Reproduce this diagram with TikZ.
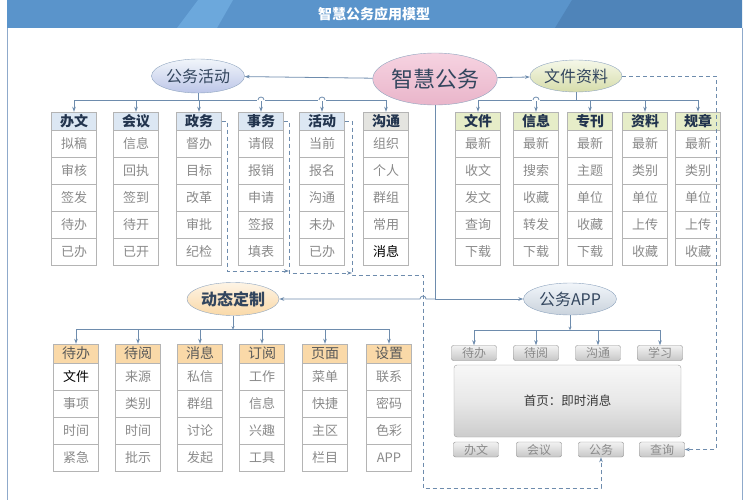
\documentclass[tikz,border=0pt]{standalone}
\usepackage{fontspec}
\setmainfont{Noto Sans CJK SC}
\usetikzlibrary{shapes.geometric,arrows.meta}

\definecolor{barmid}{HTML}{5A94CB}
\definecolor{barlight}{HTML}{6CA8DC}
\definecolor{bardark}{HTML}{4F84B9}
\definecolor{framecol}{HTML}{8FAACB}
\definecolor{wirecol}{HTML}{6E8CAD}
\definecolor{ellline}{HTML}{8EA4BE}
\definecolor{elltxt}{HTML}{33465E}
\definecolor{cellline}{HTML}{B4B4B4}
\definecolor{txtgray}{HTML}{8A8A8A}
\definecolor{hdrtxt}{HTML}{22344E}
\definecolor{hdrblue}{HTML}{DCE7F3}
\definecolor{hdrgray}{HTML}{E4E4E0}
\definecolor{hdrgreen}{HTML}{E6EDC8}
\definecolor{hdrorange}{HTML}{FAD9A8}
\definecolor{pinktop}{HTML}{F6D3E1}
\definecolor{pinkbot}{HTML}{E9B5CA}
\definecolor{btnline}{HTML}{8C8C8C}

\begin{document}
\begin{tikzpicture}[x=1pt, y=-1pt, >={Stealth[length=5pt,width=3.5pt]},
    wire/.style={draw=wirecol, line width=0.8pt},
    dashwire/.style={draw=wirecol, line width=0.8pt, dash pattern=on 4pt off 3pt},
    ell/.style={ellipse, draw=ellline, inner sep=0pt, text=elltxt, font=\fontsize{16}{16}\selectfont},
    hdr/.style={rectangle, draw=cellline, fill=#1, minimum width=45pt, minimum height=18pt, inner sep=0pt, text=hdrtxt, font=\bfseries\fontsize{14}{14}\selectfont},
    cell/.style={rectangle, draw=cellline, fill=white, minimum width=45pt, minimum height=27pt, inner sep=0pt, text=txtgray, font=\fontsize{13}{13}\selectfont},
    btn/.style={rectangle, rounded corners=2pt, draw=btnline, top color=white!95!black, bottom color=white!78!black, minimum width=45pt, minimum height=15pt, inner sep=0pt, text=txtgray, font=\fontsize{12}{12}\selectfont}]
    \useasboundingbox (0,0) rectangle (750,500);

    % Title bar
    \fill[barmid] (7,0) rectangle (742,28);
    \fill[barlight] (177,28) -- (198,0) -- (233,0) -- (217,28) -- cycle;
    \fill[bardark] (555,28) -- (572,0) -- (742,0) -- (742,28) -- cycle;
    \node[text=white, font=\bfseries\fontsize{14}{14}\selectfont] (title) at (374,14) {智慧公务应用模型};

    % Frame
    \draw[framecol, line width=1pt] (7,28) -- (7,500);
    \draw[framecol, line width=1pt] (742,28) -- (742,500);

    % Main nodes
    \node[ell, minimum width=100pt, minimum height=52pt, top color=pinktop, bottom color=pinkbot, font=\fontsize{22}{22}\selectfont] (zh) at (435,79) {智慧公务};
    \node[ell, minimum width=93pt, minimum height=34pt, top color=hdrblue!40, bottom color=hdrblue!90!blue!95!black] (gh) at (198,76) {公务活动};
    \node[ell, minimum width=92pt, minimum height=32pt, top color=hdrgreen!40, bottom color=hdrgreen!85!olive] (wz) at (576,76) {文件资料};
    \node[ell, minimum width=92pt, minimum height=33pt, top color=hdrorange!30, bottom color=hdrorange, font=\bfseries\fontsize{16}{16}\selectfont] (dt) at (233,299) {动态定制};
    \node[ell, minimum width=93pt, minimum height=32pt, top color=hdrblue!40, bottom color=hdrblue!80!gray] (ga) at (570,299) {公务APP};

    % Main connections
    \draw[wire,->] (zh) -- (gh);
    \draw[wire,->] (zh) -- (wz);
    \coordinate (hub) at (435,299);
    \draw[wire] (zh.south) -- (hub);
    \draw[wire,->] (hub) -- (426,299) arc[start angle=0, end angle=-180, radius=3] -- (dt.east);
    \draw[wire,->] (hub) -- (ga.west);

    % Gongwu huodong
    \draw[wire] (gh.south) -- ++(0,7);
    \foreach \c/\x/\hc/\h/\list in {
        1/74/hdrblue/办文/{拟稿,审核,签发,待办,已办},
        2/136/hdrblue/会议/{信息,回执,签到,待开,已开},
        3/199/hdrblue/政务/{督办,目标,改革,审批,纪检},
        4/261/hdrblue/事务/{请假,报销,申请,签报,填表},
        5/322/hdrblue/活动/{当前,报名,沟通,未办,已办},
        6/386/hdrgray/沟通/{组织,个人,群组,常用,\textcolor{black}{消息}}}
    {
        \node[hdr=\hc] (ha\c) at (\x,121) {\h};
        \foreach \t [count=\i] in \list
            \node[cell] (ha\c-\i) at (\x,116.5+27*\i) {\t};
        \draw[wire,->] (gh.south) ++(0,7) -| (ha\c.north);
    }

    % Wenjian ziliao
    \draw[wire] (wz.south) -- ++(0,8);
    \foreach \c/\x/\h/\list in {
        1/478/文件/{最新,收文,发文,查询,下载},
        2/536/信息/{最新,搜索,收藏,转发,下载},
        3/590/专刊/{最新,主题,单位,收藏,下载},
        4/645/资料/{最新,类别,单位,上传,收藏},
        5/698/规章/{最新,类别,单位,上传,收藏}}
    {
        \node[hdr=hdrgreen] (hb\c) at (\x,121) {\h};
        \foreach \t [count=\i] in \list
            \node[cell] (hb\c-\i) at (\x,116.5+27*\i) {\t};
        \draw[wire,->] (wz.south) ++(0,8) -| (hb\c.north);
    }

    % line jumps on the buses
    \foreach \bx in {261,322,536} {
        \fill[white] (\bx-3.6,98.8) rectangle (\bx+3.6,101.2);
        \draw[wire] (\bx-3,100) arc[start angle=180, end angle=360, radius=3];
    }

    % Dongtai dingzhi
    \draw[wire,-{Stealth[length=3.5pt,width=3pt]}] (dt.south) -- ++(0,14);
    \foreach \c/\x/\h/\list in {
        1/76/待办/{\textcolor{black}{文件},事项,时间,紧急},
        2/138/待阅/{来源,类别,时间,批示},
        3/200/消息/{私信,群组,讨论,发起},
        4/262/订阅/{工作,信息,兴趣,工具},
        5/325/页面/{菜单,快捷,主区,栏目},
        6/389/设置/{联系,密码,色彩,APP}}
    {
        \node[hdr=hdrorange, minimum height=19pt, text=black!65, font=\fontsize{14}{14}\selectfont] (hd\c) at (\x,353.5) {\h};
        \foreach \t [count=\i] in \list
            \node[cell] (hd\c-\i) at (\x,349.5+27*\i) {\t};
        \draw[wire,->] (dt.south) ++(0,14) -| (hd\c.north);
    }

    % Gongwu APP
    \draw[wire,-{Stealth[length=3.5pt,width=3pt]}] (ga.south) -- ++(0,15);
    \foreach \c/\x/\h in {1/474/待办, 2/536/待阅, 3/598/沟通, 4/660/学习} {
        \node[btn] (at\c) at (\x,353) {\h};
        \draw[wire,->] (ga.south) ++(0,15) -| (at\c.north);
    }
    \node[rectangle, rounded corners=3pt, draw=black!38, top color=white!97!black, bottom color=white!80!black, middle color=white!91!black, minimum width=227pt, minimum height=72pt, text=black!78, font=\fontsize{12.5}{12.5}\selectfont] (ap) at (567.5,401) {首页：即时消息};
    \foreach \c/\x/\h in {1/476/办文, 2/539/会议, 3/601/公务, 4/662/查询}
        \node[btn] (ab\c) at (\x,449.5) {\h};

    % Dashed links
    \draw[dashwire,->] (ha3.east) -- (227,121) -- (227,271) -- (289,271);
    \draw[dashwire,->] (ha4.east) -- (289,121) -- (289,273) -- (352,273);
    \draw[dashwire,->] (ha5.east) -- (352,121) -- (352,275) -- (423,275) -- (423,488) -| (ab3.south);
    \draw[dashwire,->] (wz.east) -- (716,76) |- (ab4.east);
\end{tikzpicture}
\end{document}
